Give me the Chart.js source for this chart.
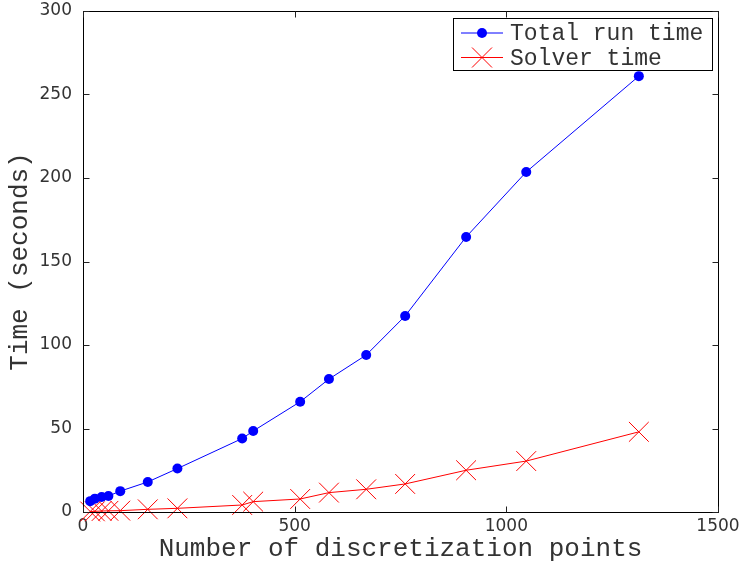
<!DOCTYPE html>
<html>
<head>
<meta charset="utf-8">
<script src="https://cdn.jsdelivr.net/npm/chart.js@4/dist/chart.umd.min.js"></script>
<style>
  html, body { margin: 0; padding: 0; background: #fff; }
  #wrap { width: 747px; height: 563px; }
</style>
</head>
<body>
<div id="wrap"><canvas id="c" width="747" height="563"></canvas></div>
<script>
// Discretization points (problem size) and measured timings in seconds
const discretizationPoints = [17, 28, 44, 60, 88, 153, 223, 376, 402, 513, 581, 669, 761, 905, 1047, 1313];
const totalRunTime = [6.5, 8, 9, 9.6, 12.5, 18, 26, 44, 48.5, 66, 79.6, 94, 117.4, 164.7, 203.6, 261];
const solverTime = [0.3, 0.4, 0.6, 0.7, 0.8, 1.6, 2.2, 4.2, 6.2, 7.8, 11.6, 13.6, 16.8, 25, 30.5, 48];
const seriesNames = ['Total run time', 'Solver time'];
const xTicks = [0, 500, 1000, 1500];
const yTicks = [0, 50, 100, 150, 200, 250, 300];

const monoFont = '"Liberation Mono", "DejaVu Sans Mono", monospace';
const tickFont = '"DejaVu Sans", sans-serif';
const textColor = '#333';
const blue = '#0000ff';
const red = '#ff0000';

const toPoints = (ys) => discretizationPoints.map((x, i) => ({ x: x, y: ys[i] }));

// Box frame with inward tick marks on all four sides
const framePlugin = {
  id: 'frame',
  afterDraw(chart) {
    const { ctx, chartArea: a, scales } = chart;
    const L = Math.round(a.left) + 0.5, R = Math.round(a.right) + 0.5;
    const T = Math.round(a.top) + 0.5, B = Math.round(a.bottom) + 0.5;
    ctx.save();
    ctx.strokeStyle = '#000';
    ctx.lineWidth = 1;
    ctx.strokeRect(L, T, R - L, B - T);
    ctx.strokeStyle = '#222';
    const len = 6;
    ctx.beginPath();
    xTicks.forEach(v => {
      const px = Math.round(scales.x.getPixelForValue(v)) + 0.5;
      ctx.moveTo(px, B); ctx.lineTo(px, B - len);
      ctx.moveTo(px, T); ctx.lineTo(px, T + len);
    });
    yTicks.forEach(v => {
      const py = Math.round(scales.y.getPixelForValue(v)) + 0.5;
      ctx.moveTo(L, py); ctx.lineTo(L + len, py);
      ctx.moveTo(R, py); ctx.lineTo(R - len, py);
    });
    ctx.stroke();
    ctx.restore();
  }
};

// Boxed legend in the upper right corner of the plot
const legendBoxPlugin = {
  id: 'legendBox',
  afterDraw(chart) {
    const { ctx, chartArea: a } = chart;
    const box = { left: a.right - 265, top: a.top + 7, width: 259, height: 52 };
    ctx.save();
    ctx.fillStyle = '#fff';
    ctx.fillRect(box.left, box.top, box.width, box.height);
    ctx.strokeStyle = '#000';
    ctx.lineWidth = 1;
    ctx.strokeRect(Math.round(box.left) + 0.5, Math.round(box.top) + 0.5, box.width, box.height);
    const rows = [box.top + 15, box.top + 39.5];
    const x0 = box.left + 8, x1 = box.left + 50, xm = (x0 + x1) / 2;
    chart.data.datasets.forEach((ds, i) => {
      const y = rows[i];
      ctx.strokeStyle = ds.borderColor;
      ctx.lineWidth = 1;
      ctx.beginPath(); ctx.moveTo(x0, y); ctx.lineTo(x1, y); ctx.stroke();
      if (i === 0) {
        ctx.fillStyle = ds.borderColor;
        ctx.beginPath(); ctx.arc(xm, y, 5, 0, Math.PI * 2); ctx.fill();
      } else {
        const r = 10;
        ctx.beginPath();
        ctx.moveTo(xm - r, y - r); ctx.lineTo(xm + r, y + r);
        ctx.moveTo(xm - r, y + r); ctx.lineTo(xm + r, y - r);
        ctx.stroke();
      }
      ctx.fillStyle = textColor;
      ctx.font = '23px ' + monoFont;
      ctx.textBaseline = 'middle';
      ctx.textAlign = 'left';
      ctx.fillText(ds.label, box.left + 57, y + 1);
    });
    ctx.restore();
  }
};

new Chart(document.getElementById('c'), {
  type: 'line',
  data: {
    datasets: [
      {
        label: seriesNames[0],
        data: toPoints(totalRunTime),
        borderColor: blue,
        backgroundColor: blue,
        pointBackgroundColor: blue,
        pointBorderColor: blue,
        borderWidth: 1,
        pointStyle: 'circle',
        pointRadius: 5,
        pointBorderWidth: 0,
        tension: 0,
        clip: false
      },
      {
        label: seriesNames[1],
        data: toPoints(solverTime),
        borderColor: red,
        backgroundColor: red,
        pointBackgroundColor: red,
        pointBorderColor: red,
        borderWidth: 1,
        pointStyle: 'crossRot',
        pointRadius: 14,
        pointBorderWidth: 1,
        tension: 0,
        clip: false
      }
    ]
  },
  options: {
    responsive: false,
    animation: false,
    devicePixelRatio: 1,
    layout: { autoPadding: false, padding: { top: 11, right: 29, left: 0, bottom: 0 } },
    plugins: { legend: { display: false }, tooltip: { enabled: false } },
    scales: {
      x: {
        type: 'linear',
        min: 0, max: 1500,
        afterBuildTicks: s => { s.ticks = xTicks.map(v => ({ value: v })); },
        afterFit: s => { s.height = 51; s.paddingLeft = 0; s.paddingRight = 0; },
        grid: { display: false, drawTicks: false, tickLength: 0 },
        border: { display: false },
        ticks: { color: textColor, font: { family: tickFont, size: 17 }, padding: 4, maxRotation: 0, callback: v => String(v) },
        title: {
          display: true,
          text: 'Number of discretization points',
          color: textColor,
          font: { family: monoFont, size: 26, lineHeight: 1.1 },
          padding: { top: 0, bottom: 0 }
        }
      },
      y: {
        type: 'linear',
        min: 0, max: 300,
        afterBuildTicks: s => { s.ticks = yTicks.map(v => ({ value: v })); },
        afterFit: s => { s.width = 83; s.paddingTop = 0; s.paddingBottom = 0; },
        grid: { display: false, drawTicks: false, tickLength: 0 },
        border: { display: false },
        ticks: { color: textColor, font: { family: tickFont, size: 17 }, padding: 11, callback: v => String(v) },
        title: {
          display: true,
          text: 'Time (seconds)',
          color: textColor,
          font: { family: monoFont, size: 26, lineHeight: 1.1 },
          padding: { top: 6, bottom: 0 }
        }
      }
    }
  },
  plugins: [framePlugin, legendBoxPlugin]
});
</script>
</body>
</html>
